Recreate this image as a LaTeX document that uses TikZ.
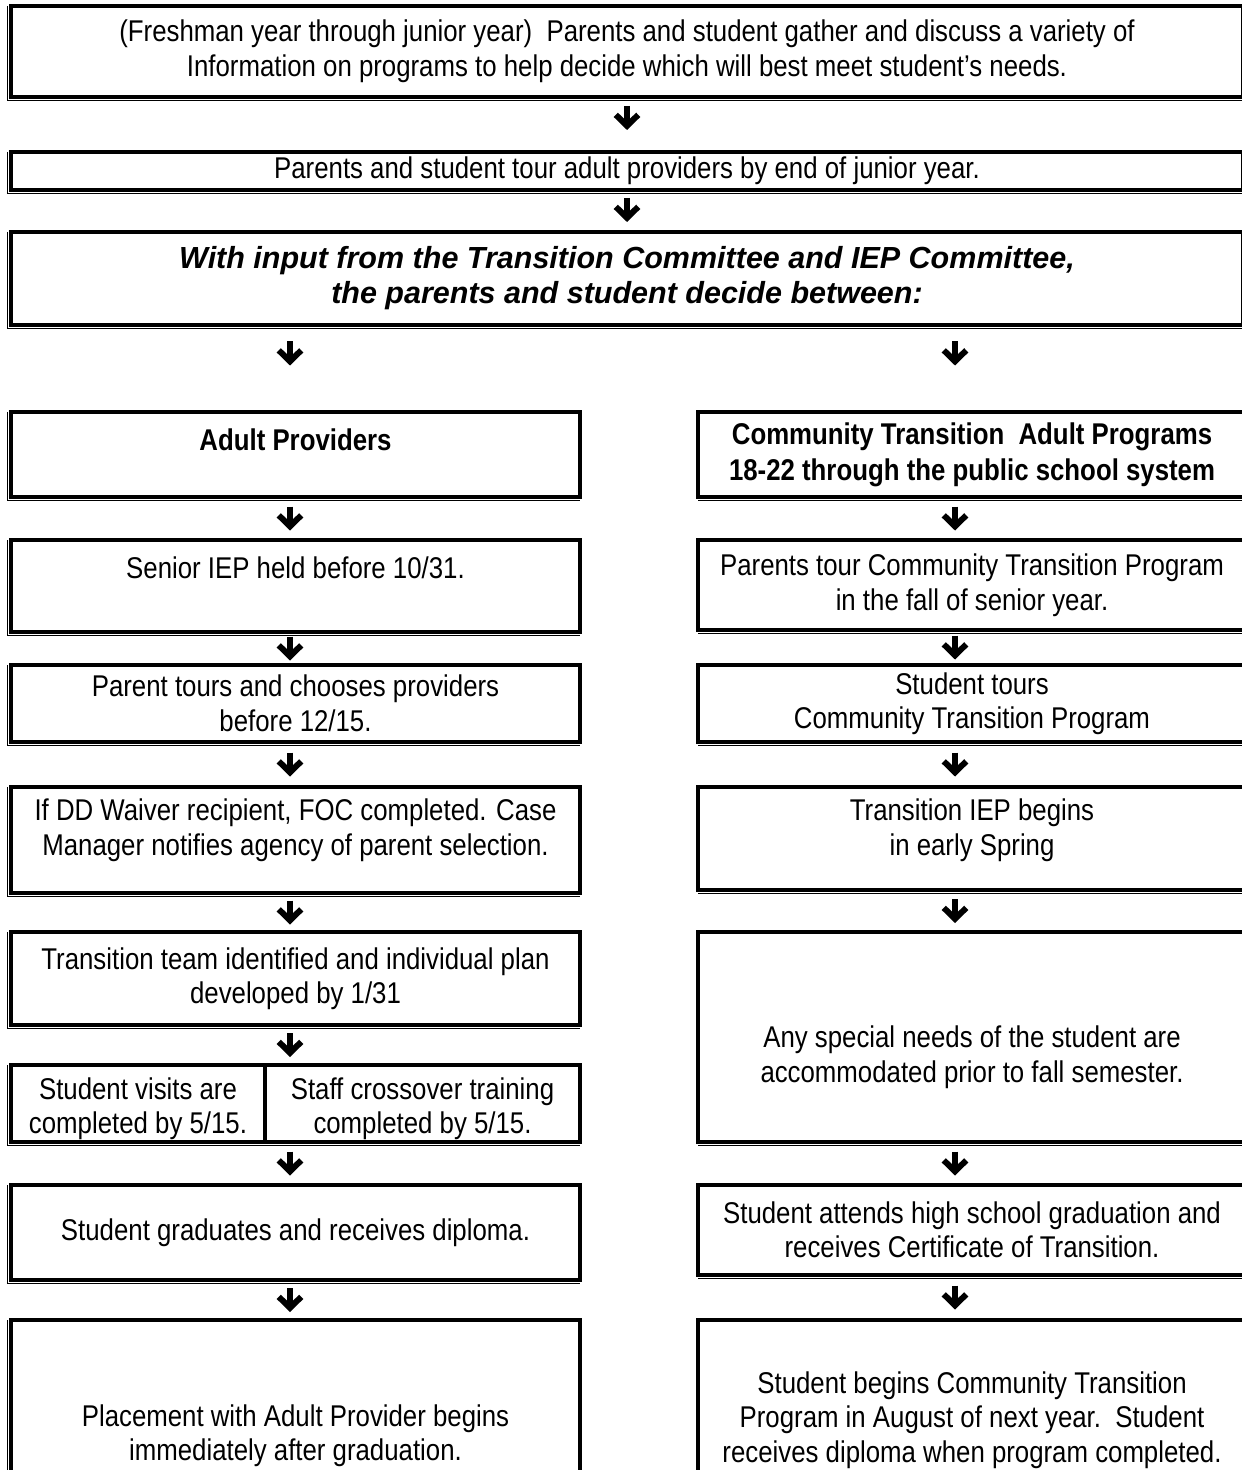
\documentclass[tikz,border=0pt]{standalone}
\usepackage{fontspec}
\setmainfont{Liberation Sans}
\newfontfamily\narrowfont[FakeStretch=0.86]{Liberation Sans}
\usetikzlibrary{arrows.meta,calc,fit}
\tikzset{>={Straight Barb[length=4.4pt,width=9pt]}}
\tikzset{
  box/.style={draw, line width=1.3pt, inner sep=0pt, outer sep=0pt},
  txt/.style={align=center, inner sep=0pt, font=\narrowfont\fontsize{12}{13.8}\selectfont},
  hd/.style={align=center, inner sep=0pt, font=\narrowfont\bfseries\fontsize{12}{14.4}\selectfont},
  bi/.style={align=center, inner sep=0pt, font=\bfseries\itshape\fontsize{12.2}{14}\selectfont},
  shade/.style={line width=0.55pt},
  dn/.style={->, line width=2.4pt},
}

\begin{document}
\begin{tikzpicture}[x=0.4pt, y=0.4pt]

  \newcommand\godown[4][0]{\draw[dn] ($(#2.south -| #4)!.5!(#3.north -| #4)+(0,#1+12)$) -- ++(0,-24);}

  \useasboundingbox (0,0) rectangle (1241,-1470);
  \coordinate (mx) at (627,0);
  \coordinate (lx) at (290,0);
  \coordinate (rx) at (955,0);

  % common part
  \node[box, fit={(11,-6) (1243,-97)}, label={[txt]center:{(Freshman year through junior year)\ \ Parents and student gather and discuss a variety of\\Information on programs to help decide which will best meet student’s needs.}}] (intro) {};
  \node[box, fit={(11,-152) (1243,-190)}, label={[txt]center:{Parents and student tour adult providers by end of junior year.}}] (tour) {};
  \node[box, fit={(11,-232) (1243,-325)}, label={[bi]center:{With input from the Transition Committee and IEP Committee,\\the parents and student decide between:}}] (decide) {};

  % left column
  \node[box, fit={(11,-412) (580,-497)}, label={[hd, yshift=5.8pt]center:{Adult Providers}}] (prov) {};
  \node[box, fit={(11,-540) (580,-632)}, label={[txt, yshift=7.2pt]center:{Senior IEP held before 10/31.}}] (senior) {};
  \node[box, fit={(11,-665) (580,-742)}, label={[txt]center:{Parent tours and chooses providers\\before 12/15.}}] (choose) {};
  \node[box, fit={(11,-787) (580,-893)}, label={[txt, yshift=4pt]center:{If DD Waiver recipient, FOC completed. Case\\Manager notifies agency of parent selection.}}] (ddw) {};
  \node[box, fit={(11,-932) (580,-1025)}, label={[txt]center:{Transition team identified and individual plan\\developed by 1/31}}] (team) {};
  \node[box, fit={(11,-1065) (265,-1142)}, label={[txt, yshift=-2pt]center:{Student visits are\\completed by 5/15.}}] (visits) {};
  \node[box, fit={(265,-1065) (580,-1142)}, label={[txt, yshift=-2pt]center:{Staff crossover training\\completed by 5/15.}}] (crossover) {};
  \node[box, fit={(11,-1185) (580,-1280)}, label={[txt]center:{Student graduates and receives diploma.}}] (grad) {};
  \node[box, fit={(11,-1320) (580,-1490)}, label={[txt, yshift=-12.2pt]center:{Placement with Adult Provider begins\\immediately after graduation.}}] (place) {};

  % right column
  \node[box, fit={(698,-412) (1246,-497)}, label={[hd]center:{Community Transition\ \ Adult Programs\\18-22 through the public school system}}] (ctap) {};
  \node[box, fit={(698,-540) (1246,-630)}, label={[txt]center:{Parents tour Community Transition Program\\in the fall of senior year.}}] (ptour) {};
  \node[box, fit={(698,-665) (1246,-742)}, label={[txt]center:{Student tours\\Community Transition Program}}] (stour) {};
  \node[box, fit={(698,-787) (1246,-890)}, label={[txt, yshift=3.4pt]center:{Transition IEP begins\\in early Spring}}] (tiep) {};
  \node[box, fit={(698,-932) (1246,-1142)}, label={[txt, yshift=-8pt]center:{Any special needs of the student are\\accommodated prior to fall semester.}}] (needs) {};
  \node[box, fit={(698,-1185) (1246,-1275)}, label={[txt]center:{Student attends high school graduation and\\receives Certificate of Transition.}}] (attend) {};
  \node[box, fit={(698,-1320) (1246,-1490)}, label={[txt, yshift=-6pt]center:{Student begins Community Transition\\Program in August of next year.\ \ Student\\receives diploma when program completed.}}] (begins) {};

  % thin second lines
  \foreach \n in {intro,tour,decide,prov,senior,choose,ddw,team,grad,place}
    \draw[shade] ([xshift=-1.4pt]\n.north west) |- ([yshift=-1.4pt]\n.south east);
  \draw[shade] ([xshift=-1.4pt]visits.north west) |- ([yshift=-1.4pt]crossover.south east);
  \foreach \n in {ctap,ptour,stour,tiep,needs,attend,begins}
    \draw[shade] ([yshift=-1.4pt]\n.south west) -- ([yshift=-1.4pt]\n.south east);

  % arrows
  \godown[6.5]{intro}{tour}{mx}
  \godown[1]{tour}{decide}{mx}
  \godown[15]{decide}{prov}{lx}
  \godown[15]{decide}{ctap}{rx}
  \godown{prov}{senior}{lx}
  \godown{senior}{choose}{lx}
  \godown{choose}{ddw}{lx}
  \godown{ddw}{team}{lx}
  \godown{team}{visits}{lx}
  \godown{visits}{grad}{lx}
  \godown{grad}{place}{lx}
  \godown{ctap}{ptour}{rx}
  \godown{ptour}{stour}{rx}
  \godown{stour}{tiep}{rx}
  \godown{tiep}{needs}{rx}
  \godown{needs}{attend}{rx}
  \godown{attend}{begins}{rx}

\end{tikzpicture}
\end{document}
